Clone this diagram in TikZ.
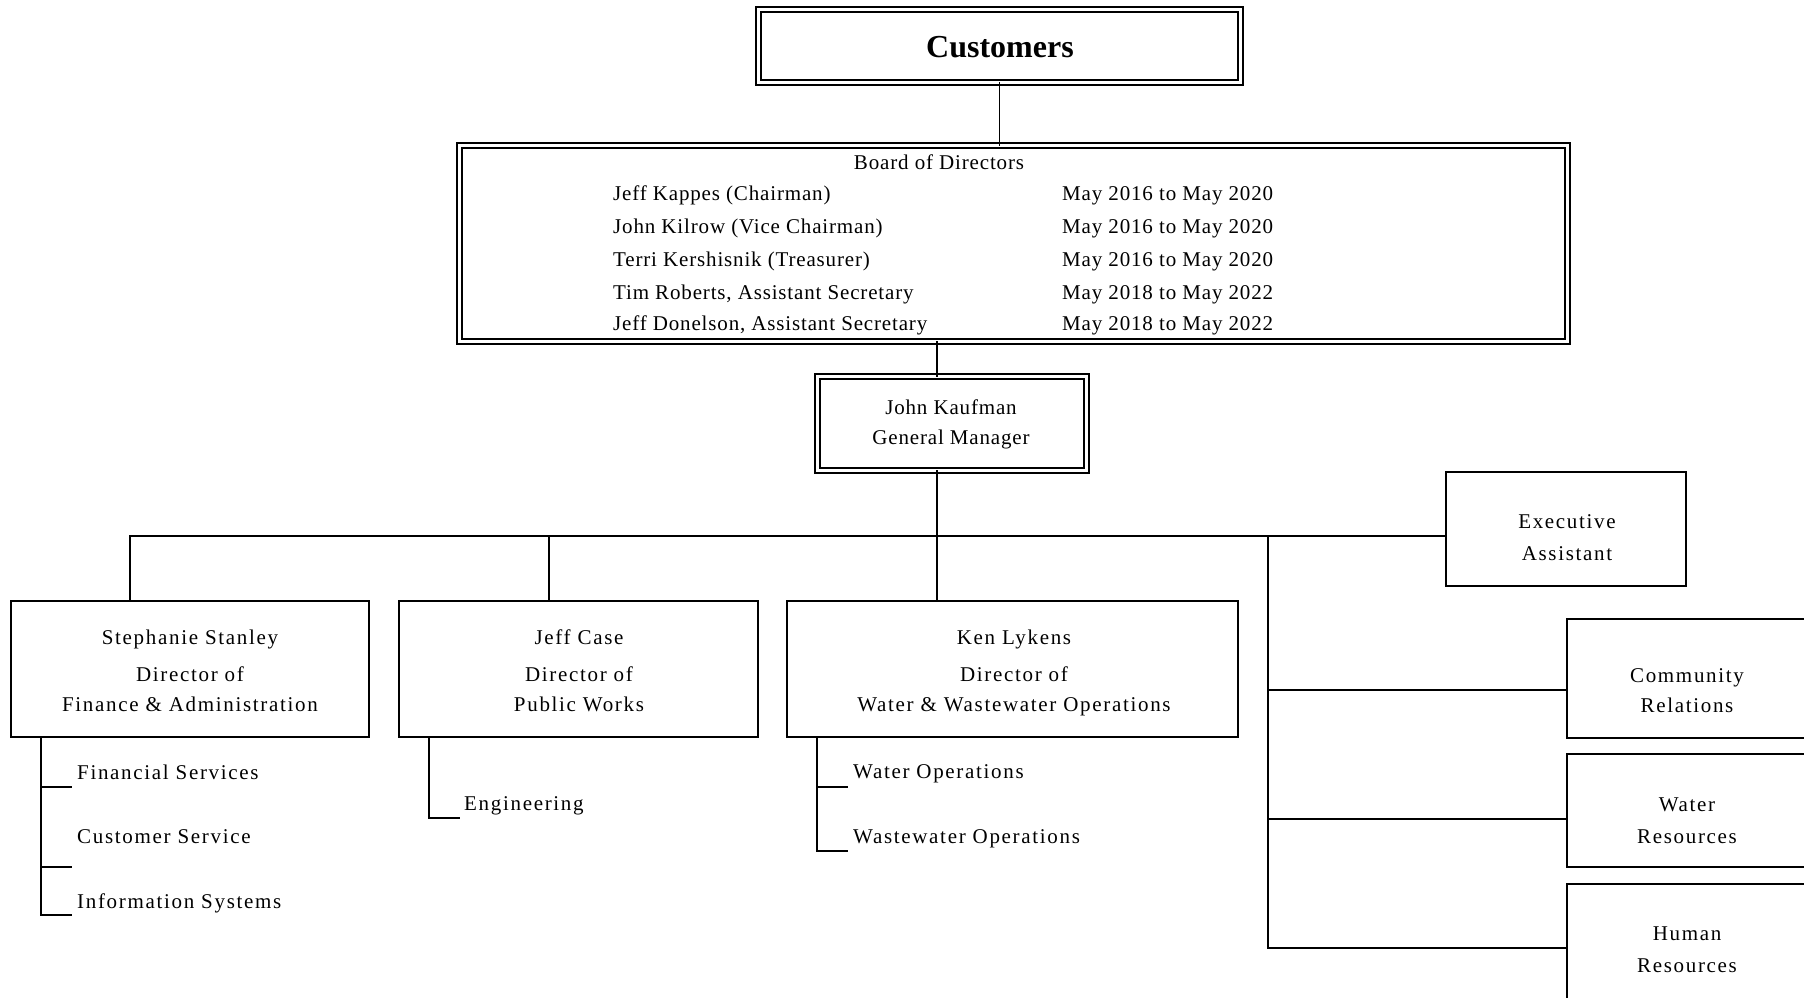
\documentclass[tikz,border=0pt]{standalone}
\usepackage{fontspec}
\setmainfont{Liberation Serif}
\newfontfamily\boxfont[LetterSpace=8]{Liberation Serif}
\newfontfamily\brdfont[LetterSpace=4]{Liberation Serif}
\tikzset{
  conn/.style={line width=1.9pt, line cap=rect},
  boxn/.style={draw, line width=1.9pt, inner sep=0pt, rectangle},
  dbox/.style={draw, double, line width=1.7pt, double distance=3.3pt, inner sep=0pt, rectangle},
  lbl/.style={inner sep=0pt, anchor=base, font=\boxfont\fontsize{21}{24}\selectfont},
  lblw/.style={inner sep=0pt, anchor=base west, font=\boxfont\fontsize{21}{24}\selectfont},
  brd/.style={inner sep=0pt, anchor=base west, font=\brdfont\fontsize{21}{24}\selectfont},
  brdc/.style={inner sep=0pt, anchor=base, font=\brdfont\fontsize{21}{24}\selectfont},
}
\begin{document}
\begin{tikzpicture}[x=1pt,y=-1pt]
\useasboundingbox (0,0) rectangle (1804,997);
\clip (0,0) rectangle (1804,997);
\fill[white] (0,0) rectangle (1804,997);

% Customers
\node[dbox, minimum width=482pt, minimum height=73pt] (cust) at (999.5,46) {};
\node[inner sep=0pt, anchor=base, font=\bfseries\fontsize{32}{36}\selectfont] (custt) at (1000,57) {Customers};

% Board
\node[dbox, minimum width=1108pt, minimum height=196pt] (board) at (1013.5,243.5) {};
\node[brdc] (bt) at (939,169) {Board of Directors};
\node[brd] (r1a) at (613,200) {Jeff Kappes (Chairman)};
\node[brd] (r2a) at (613,233) {John Kilrow (Vice Chairman)};
\node[brd] (r3a) at (613,266) {Terri Kershisnik (Treasurer)};
\node[brd] (r4a) at (613,299) {Tim Roberts, Assistant Secretary};
\node[brd] (r5a) at (613,330) {Jeff Donelson, Assistant Secretary};
\node[brd] (r1b) at (1062,200) {May 2016 to May 2020};
\node[brd] (r2b) at (1062,233) {May 2016 to May 2020};
\node[brd] (r3b) at (1062,266) {May 2016 to May 2020};
\node[brd] (r4b) at (1062,299) {May 2018 to May 2022};
\node[brd] (r5b) at (1062,330) {May 2018 to May 2022};

% General manager
\node[dbox, minimum width=269pt, minimum height=94pt] (gm) at (952,423.5) {};
\node[brdc] (gm1) at (951,414) {John Kaufman};
\node[brdc] (gm2) at (951,444) {General Manager};

% Directors
\node[boxn, minimum width=358pt, minimum height=136pt] (stanley) at (190,669) {};
\node[lbl] (st1) at (190,644) {Stephanie Stanley};
\node[lbl] (st2) at (190,681) {Director of};
\node[lbl] (st3) at (190,711) {Finance \& Administration};

\node[boxn, minimum width=359pt, minimum height=136pt] (case) at (578.5,669) {};
\node[lbl] (ca1) at (579,644) {Jeff Case};
\node[lbl] (ca2) at (579,681) {Director of};
\node[lbl] (ca3) at (579,711) {Public Works};

\node[boxn, minimum width=451pt, minimum height=136pt] (lyk) at (1012.5,669) {};
\node[lbl] (ly1) at (1014,644) {Ken Lykens};
\node[lbl] (ly2) at (1014,681) {Director of};
\node[lbl] (ly3) at (1014,711) {Water \& Wastewater Operations};

% Executive assistant
\node[boxn, minimum width=240pt, minimum height=114pt] (exec) at (1566,529) {};
\node[lbl] (ex1) at (1567,528) {Executive};
\node[lbl] (ex2) at (1567,560) {Assistant};

% Right column
\node[boxn, minimum width=241pt, minimum height=119pt] (comm) at (1687.5,678.5) {};
\node[lbl] (co1) at (1687,682) {Community};
\node[lbl] (co2) at (1687,712) {Relations};
\node[boxn, minimum width=241pt, minimum height=113pt] (wres) at (1687.5,810.5) {};
\node[lbl] (wr1) at (1687,811) {Water};
\node[lbl] (wr2) at (1687,843) {Resources};
\node[boxn, minimum width=241pt, minimum height=116pt] (hres) at (1687.5,942) {};
\node[lbl] (hr1) at (1687,940) {Human};
\node[lbl] (hr2) at (1687,972) {Resources};

% Sub items
\node[lblw] (fs) at (77,779) {Financial Services};
\node[lblw] (cs) at (77,843) {Customer Service};
\node[lblw] (is) at (77,908) {Information Systems};
\node[lblw] (eng) at (464,810) {Engineering};
\node[lblw] (wo) at (853,778) {Water Operations};
\node[lblw] (wwo) at (853,843) {Wastewater Operations};

% coordinates
\coordinate (gmx) at (937,0);
\coordinate (busL) at (130,536);
\coordinate (casex) at (549,0);
\coordinate (rvx) at (1268,0);
\coordinate (sx) at (41,0);
\coordinate (cx) at (429,0);
\coordinate (lx) at (817,0);

% connectors
\draw[conn] (cust.south) -- (board.north -| cust.south);
\draw[conn] (board.south -| gmx) -- (gm.north -| gmx);
\draw[conn] (gm.south -| gmx) -- (busL -| gmx);
\draw[conn] (busL) -- (busL -| exec.west);
\draw[conn] (busL) -- (stanley.north -| busL);
\draw[conn] (busL -| casex) -- (case.north -| casex);
\draw[conn] (busL -| gmx) -- (lyk.north -| gmx);
\draw[conn] (busL -| rvx) -- (rvx |- 0,948) -- (hres.west |- 0,948);
\draw[conn] (rvx |- 0,690) -- (comm.west |- 0,690);
\draw[conn] (rvx |- 0,819) -- (wres.west |- 0,819);

% sub-item brackets
\draw[conn] (stanley.south -| sx) -- (sx |- 0,915) -- (71,915);
\draw[conn] (sx |- 0,787) -- (71,787);
\draw[conn] (sx |- 0,867) -- (71,867);
\draw[conn] (case.south -| cx) -- (cx |- 0,818) -- (459,818);
\draw[conn] (lyk.south -| lx) -- (lx |- 0,851) -- (847,851);
\draw[conn] (lx |- 0,787) -- (847,787);
\end{tikzpicture}
\end{document}
